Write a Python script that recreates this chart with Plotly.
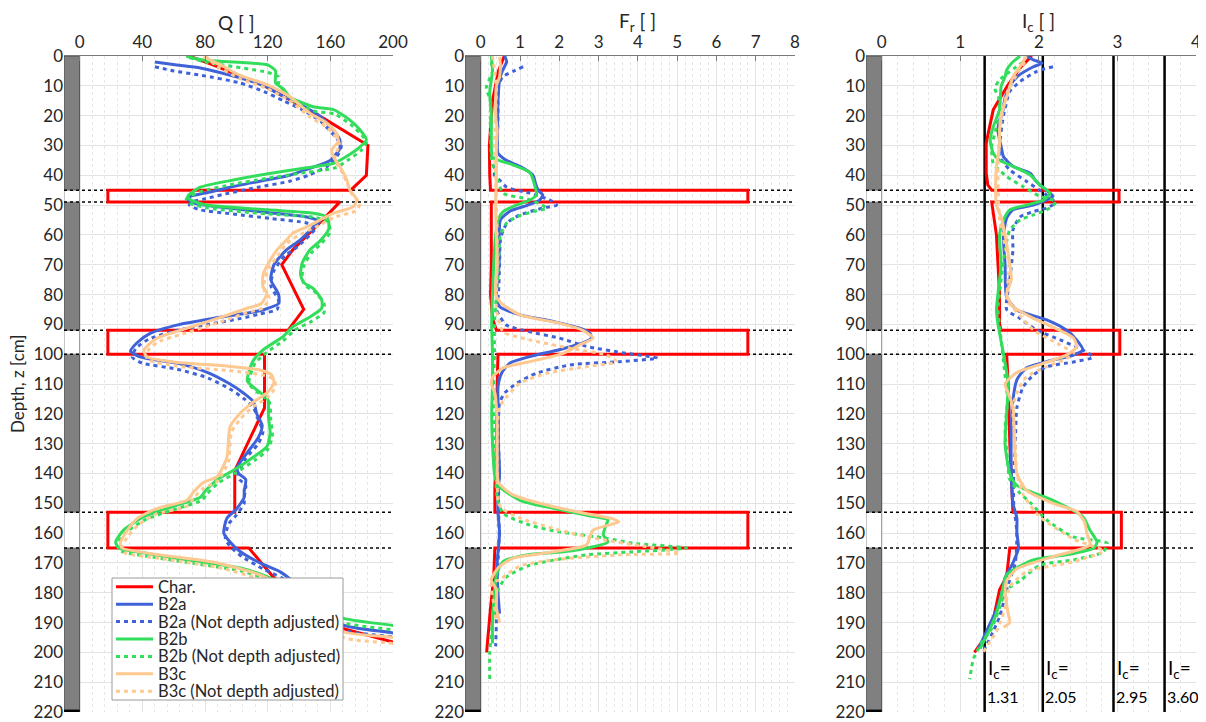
import plotly.graph_objects as go

# ---------------- data ----------------
# Panel 1 : Q
CHAR_Q_Z = [0, 3, 10, 21, 29, 30, 40, 45, 45, 49, 49, 55, 65, 70, 85, 92, 92, 100, 100, 118, 139, 153, 153, 165, 165, 175, 185, 192, 196.5, 200]
CHAR_Q = [70, 85, 118, 156, 181, 184, 183, 173, 18, 18, 166, 155, 136, 129, 143, 133, 18, 18, 118, 118, 99, 99, 18, 18, 108, 124, 150, 168, 200, 205]

B2A_Q_Z = [2, 3, 4, 7, 10, 13, 16, 20, 25, 28, 31, 35, 38, 40, 42, 44, 46, 47, 48, 49.5, 51, 52.5, 54, 55.5, 58, 62, 65, 70, 75, 80, 83, 85, 86, 88, 90, 93, 96, 99, 101, 103, 106, 110, 113, 116, 120, 124, 128, 133, 138, 140, 142, 146, 148, 152, 155, 160, 163, 166, 170, 173, 176, 181, 186, 190.8, 193.5, 195]
B2A_Q = [48, 62, 77, 100, 118, 128, 140, 153, 162, 166, 166, 160, 145, 134, 115, 96, 80, 71, 69, 74, 95, 120, 145, 153, 148, 140, 132, 124, 122, 127, 127, 118, 109, 85, 64, 45, 37, 32.5, 39, 62, 81, 96, 104.5, 111, 113, 116.5, 114, 107, 100.5, 101.5, 106, 105, 105, 100, 94, 92, 96, 102, 115, 128, 136, 150, 160, 168, 200, 212]

B2A_ND_Q_Z = [3.6, 5, 6.5, 9, 12, 15, 18, 22, 27, 30, 33, 37, 40, 42, 44, 46, 48, 49, 50, 51.5, 53, 54.5, 56, 57.5, 60, 64, 67, 72, 77, 82, 85, 86.5, 88, 90, 92, 95, 98, 101, 103, 105, 108, 112, 115, 118, 122, 126, 130, 135, 140, 142, 144, 148, 150, 154, 157, 162, 165, 168, 172, 175, 178, 183, 188, 192.5, 194.8, 196]
B2A_ND_Q = [48, 60, 78, 102, 118, 130, 142, 154, 163, 167, 165, 158, 146, 134, 114, 95, 79, 71, 70, 76, 98, 122, 145, 151, 147, 139, 131, 124, 122, 127, 126, 115, 103, 82, 62, 44, 36, 33.6, 40, 62, 82, 97, 105, 111, 114, 117, 114, 106, 101, 102, 106, 105, 105, 100, 95, 93, 97, 104, 117, 129, 138, 151, 161, 168, 200, 212]

B2B_Q_Z = [0, 1, 1.5, 3, 5, 9, 11, 13.7, 17, 18, 21.5, 24.8, 28, 30.5, 33.8, 36, 37.5, 39.5, 41.6, 44, 47, 48.3, 50, 51.6, 52.7, 54, 58, 62, 65, 69.5, 73.4, 76, 77.9, 81.8, 84.6, 87.5, 90.8, 94, 98.6, 102, 106, 109, 112, 115, 121, 126.5, 131, 134.5, 139, 142, 146, 148, 151, 154.5, 159, 163, 165, 167, 169.6, 171.7, 174.7, 180, 184.5, 188.5, 191, 192.5]
B2B_Q = [68, 75, 81, 120, 125, 125, 130, 134, 149, 162, 172.5, 179, 183, 179, 170, 162, 145, 120, 98, 77, 69, 71, 81, 120, 149, 158, 159, 153.5, 147, 142, 141, 143, 149, 154.5, 154.5, 147, 136, 130, 117, 111, 108, 107, 113, 120, 120.5, 121.6, 119.5, 111, 98, 88, 80, 77, 60, 41, 28, 23, 25, 45, 77, 102.5, 120, 140, 155, 168, 200, 212]

B2B_ND_Q_Z = [0.5, 2, 5.5, 7, 9.5, 12, 15, 18.5, 19.5, 23, 26.5, 29, 31.5, 35, 37.5, 39, 41, 43, 45.5, 48, 49.5, 51, 53, 54, 55.5, 59, 63, 66, 70.5, 74.5, 77, 79, 83, 86, 89, 92, 95, 100, 103, 107, 110, 113, 116, 122, 127.5, 132, 135.5, 140, 143, 147, 149, 152, 155.5, 160, 164, 166, 168, 170.6, 172.7, 175.7, 181, 185.5, 190, 192.5, 194]
B2B_ND_Q = [70, 80, 120, 127, 127, 131, 136, 150, 163, 173, 180, 183, 180, 171, 163, 145, 120, 98, 77, 68, 71, 82, 120, 149, 158, 160, 154, 148, 143, 142, 144, 150, 156, 156, 148, 137, 131, 118, 112, 109, 108, 114, 121, 122, 123, 120, 112, 99, 89, 81, 78, 61, 42, 29, 24, 26, 46, 78, 103, 121, 141, 156, 168, 200, 212]

B3C_Q_Z = [0.3, 3, 6.4, 9.7, 13.6, 19.2, 22.6, 26, 28.7, 31.5, 33.8, 37, 41.6, 45, 48.3, 50.6, 52.7, 55, 57.3, 59.4, 61.7, 65, 69.5, 73.4, 77.4, 79.5, 83, 84.6, 88, 92, 94.6, 98.6, 100.9, 102.6, 104, 105.3, 107, 109.7, 113, 116, 119.8, 124.3, 128.8, 134.5, 141, 143, 146, 149, 151.7, 155, 159, 163.3, 165, 167.3, 170, 174, 180, 186, 193, 195, 196.5]
B3C_Q = [79, 90, 102, 120, 134, 147, 158, 164, 165, 161, 162, 166, 170.5, 172.5, 177, 174.5, 162, 153.5, 145, 136, 132, 126, 120.5, 117, 117, 119.5, 116, 107, 88, 64, 49.5, 41, 43, 60, 94, 115, 122.6, 124, 119.5, 111, 102.5, 96, 95, 94, 88, 79, 73, 68.5, 49.5, 37, 30.5, 26, 27, 51.5, 88, 115, 138, 155, 168, 200, 212]

B3C_ND_Q_Z = [0, 3.5, 7.5, 11, 15, 20.5, 24, 27.5, 30, 33, 35, 38.5, 43, 46.5, 49.5, 52, 54, 56.5, 58.5, 61, 63, 66.5, 71, 75, 79, 81, 84.5, 86, 89.5, 93.5, 96, 100, 102, 104, 105.5, 107, 108.5, 111, 114.5, 117.5, 121.5, 126, 130.5, 136, 142.5, 145, 148, 151, 153.5, 157, 161, 164.5, 166.5, 168.5, 171.5, 175.5, 181.5, 188, 195, 197, 198.5]
B3C_ND_Q = [80, 88, 102, 120, 134, 147, 158, 164, 166, 163, 163, 167, 171, 174, 179, 176, 163, 154, 146, 137, 132, 127, 121, 118, 118, 121, 117, 107, 88, 64, 49.5, 42, 44, 62, 95, 117, 124, 125, 120, 111, 103, 97, 96, 95, 88, 79, 73, 68.5, 49.5, 38, 31, 27, 28, 52, 88, 115, 138, 155, 168, 200, 212]

# Panel 2 : F_r
CHAR_FR_Z = [0, 5, 15, 25, 30, 40, 45, 45, 49, 49, 60, 70, 80, 88, 92, 92, 100, 100, 110, 130, 145, 153, 153, 165, 165, 175, 185, 200]
CHAR_FR = [0.6, 0.45, 0.3, 0.25, 0.22, 0.23, 0.25, 6.8, 6.8, 0.27, 0.28, 0.27, 0.25, 0.3, 0.4, 6.8, 6.8, 0.44, 0.42, 0.4, 0.36, 0.36, 6.8, 6.8, 0.36, 0.33, 0.25, 0.15]

B2A_FR_Z = [0, 2, 5, 8, 15, 25, 32.6, 35, 37, 40, 43, 45, 46.6, 48.3, 50, 52, 55, 60, 70, 79.5, 84, 86.8, 89, 91.3, 93, 94.6, 96.2, 98.5, 100.8, 103, 106.4, 111, 120, 130, 140, 145, 153, 160, 165, 170, 180, 187]
B2A_FR = [0.61, 0.66, 0.55, 0.48, 0.44, 0.43, 0.44, 0.65, 1.0, 1.33, 1.4, 1.46, 1.58, 1.5, 1.2, 0.75, 0.5, 0.47, 0.47, 0.4, 0.48, 1.0, 1.84, 2.52, 2.78, 2.82, 2.6, 2.0, 1.25, 0.74, 0.53, 0.44, 0.45, 0.45, 0.48, 0.45, 0.44, 0.48, 0.45, 0.42, 0.44, 0.48]

B2A_ND_FR_Z = [3.6, 5, 7, 10, 20, 30, 40, 41.6, 44, 46, 48.3, 50, 51, 53.3, 55.6, 58.4, 62, 70, 80, 85, 90.2, 92.5, 94.6, 97.4, 99.7, 101.3, 102.5, 103.6, 106.4, 109.7, 113, 116.4, 125, 140, 150, 160, 170, 180, 190, 198]
B2A_ND_FR = [1.08, 0.85, 0.56, 0.45, 0.44, 0.42, 0.35, 0.48, 0.66, 1.25, 1.76, 1.93, 1.57, 1.0, 0.7, 0.57, 0.5, 0.48, 0.45, 0.4, 0.65, 1.25, 2.0, 2.69, 3.7, 4.5, 3.54, 2.27, 1.42, 0.92, 0.61, 0.48, 0.45, 0.47, 0.45, 0.47, 0.44, 0.42, 0.4, 0.38]

B2B_FR_Z = [0, 5, 12, 20, 30, 34, 36.5, 39, 43.7, 46.6, 48.3, 50, 52.2, 55, 60, 70, 80, 90, 100, 110, 120, 130, 140, 144, 149, 151.7, 154, 155.6, 157, 160.6, 163, 164.6, 166.3, 167.3, 169.6, 174, 180, 190, 197]
B2B_FR = [0.27, 0.3, 0.23, 0.27, 0.27, 0.3, 0.82, 1.25, 1.38, 1.42, 1.25, 0.91, 0.57, 0.44, 0.38, 0.33, 0.3, 0.28, 0.3, 0.3, 0.28, 0.3, 0.35, 0.44, 1.0, 1.84, 2.69, 3.24, 3.2, 3.12, 3.24, 2.86, 2.1, 1.17, 0.57, 0.4, 0.35, 0.3, 0.3]

B2B_ND_FR_Z = [2, 5, 10.8, 15, 25, 35, 40, 46, 48, 51, 52.2, 54, 56, 60, 70, 80, 90, 100, 110, 120, 130, 140, 148, 153.4, 157.3, 159.6, 161.7, 163.4, 165, 166.3, 167.3, 170.8, 174.7, 180, 190, 200, 209]
B2B_ND_FR = [0.27, 0.3, 0.14, 0.25, 0.25, 0.28, 0.4, 0.57, 1.2, 1.68, 1.33, 0.91, 0.66, 0.5, 0.45, 0.4, 0.35, 0.35, 0.33, 0.33, 0.35, 0.38, 0.42, 0.57, 1.25, 2.0, 3.2, 3.87, 5.24, 3.87, 2.69, 1.25, 0.66, 0.4, 0.3, 0.23, 0.23]

B3C_FR_Z = [0.3, 3, 7, 10, 20, 25, 30, 40, 50, 60, 70, 80, 83, 86.8, 89.6, 92, 94.6, 96.9, 99.7, 102.5, 104.6, 107.6, 110, 113, 118, 125, 135, 143, 147, 150, 153, 155, 156.2, 159, 161.3, 164, 166.3, 168.4, 171.7, 175.7, 179, 185, 190]
B3C_FR = [0.48, 0.5, 0.48, 0.4, 0.38, 0.42, 0.4, 0.4, 0.38, 0.4, 0.42, 0.38, 0.53, 1.0, 2.0, 2.6, 2.86, 2.52, 2.1, 1.25, 0.57, 0.31, 0.27, 0.36, 0.4, 0.42, 0.42, 0.45, 0.8, 1.5, 2.5, 3.3, 3.52, 2.86, 2.78, 2.69, 1.84, 0.82, 0.44, 0.27, 0.4, 0.4, 0.48]

B3C_ND_FR_Z = [0, 5, 10, 20, 30, 40, 50, 60, 70, 80, 85, 92.5, 95.2, 98, 100.3, 102.5, 104.2, 106.4, 109.7, 114.3, 117.7, 125, 140, 150, 152, 155, 159, 162, 164.5, 166.7, 167.3, 169, 171, 175.6, 177, 185, 190]
B3C_ND_FR = [0.3, 0.35, 0.4, 0.38, 0.35, 0.38, 0.4, 0.42, 0.42, 0.4, 0.4, 0.57, 1.25, 2.27, 3.2, 3.46, 2.69, 1.68, 1.0, 0.66, 0.48, 0.42, 0.42, 0.45, 0.57, 1.0, 2.0, 3.0, 4.2, 5.07, 3.54, 1.84, 1.0, 0.48, 0.27, 0.35, 0.4]

# Panel 3 : I_c
CHAR_IC_Z = [0, 4, 10, 18, 26.6, 29.3, 39.3, 43.2, 45, 45, 49, 49, 52.7, 60, 70, 80, 90, 92, 92, 100, 100, 110, 130, 145, 153, 153, 165, 165, 174.5, 179, 189, 196, 200]
CHAR_IC = [1.91, 1.76, 1.6, 1.42, 1.35, 1.33, 1.33, 1.35, 1.4, 3.02, 3.02, 1.4, 1.42, 1.46, 1.48, 1.5, 1.5, 1.52, 3.03, 3.03, 1.59, 1.61, 1.63, 1.66, 1.67, 3.05, 3.05, 1.63, 1.59, 1.5, 1.42, 1.29, 1.18]

B2A_IC_Z = [0, 1.3, 2.4, 3.6, 7, 10.2, 14, 20, 21.5, 25, 28, 30.4, 33.8, 37, 39.3, 42.2, 46, 47, 48.3, 50, 51.6, 54.4, 60, 70, 80.8, 85.2, 88.5, 91.9, 95.2, 98.6, 100.3, 102.5, 104.6, 108.6, 115.4, 125, 140, 150, 155, 160, 165, 170, 175, 180, 185.7, 192, 198.8]
B2A_IC = [1.84, 1.93, 2.04, 1.93, 1.72, 1.63, 1.57, 1.53, 1.5, 1.48, 1.5, 1.52, 1.55, 1.67, 1.89, 1.97, 2.14, 2.18, 2.1, 1.93, 1.67, 1.59, 1.55, 1.57, 1.59, 1.72, 2.1, 2.35, 2.48, 2.56, 2.44, 2.1, 1.84, 1.72, 1.67, 1.65, 1.65, 1.67, 1.72, 1.72, 1.74, 1.67, 1.57, 1.53, 1.46, 1.35, 1.23]

B2A_ND_IC_Z = [3.6, 5.2, 8.6, 11.9, 20, 30, 33.8, 38.2, 42, 45, 48.3, 49.4, 51, 52.2, 54, 58.4, 65, 75, 85, 88, 91.9, 95.2, 98.6, 101, 102.6, 104.2, 107, 111, 118, 130, 140, 150, 160, 170, 178, 188, 200]
B2A_ND_IC = [2.18, 1.97, 1.76, 1.63, 1.55, 1.5, 1.5, 1.63, 1.84, 2.01, 2.18, 2.2, 2.1, 1.93, 1.76, 1.67, 1.67, 1.63, 1.59, 1.76, 1.97, 2.27, 2.56, 2.69, 2.44, 2.1, 1.93, 1.8, 1.72, 1.7, 1.68, 1.68, 1.72, 1.7, 1.6, 1.5, 1.29]

B2B_IC_Z = [0, 2.5, 4.7, 7, 10.2, 18, 23.7, 28.2, 32.6, 35, 37, 39.9, 43.2, 46, 48.3, 50, 51.6, 55, 60, 70, 75, 85.2, 90, 100, 110, 120, 130, 140, 144, 149, 154.5, 159, 163, 165, 167.3, 169, 174, 180, 187, 192, 198.8]
B2B_IC = [1.76, 1.65, 1.59, 1.57, 1.52, 1.5, 1.42, 1.38, 1.42, 1.5, 1.67, 1.89, 2.01, 2.14, 2.06, 1.84, 1.63, 1.55, 1.5, 1.52, 1.5, 1.46, 1.48, 1.55, 1.61, 1.59, 1.57, 1.63, 1.72, 2.18, 2.56, 2.65, 2.74, 2.7, 2.35, 1.93, 1.59, 1.53, 1.46, 1.38, 1.25]

B2B_ND_IC_Z = [2, 8, 10.8, 15, 25, 30, 36, 40.4, 43.8, 47, 48.8, 51, 53.3, 55, 58.4, 65, 75, 85, 95, 105, 115, 125, 135, 142, 146.6, 150, 155.6, 161.3, 163.4, 166.3, 169, 170.8, 176, 179, 185, 192, 196, 202, 209]
B2B_ND_IC = [1.8, 1.5, 1.44, 1.5, 1.45, 1.4, 1.42, 1.59, 1.8, 2.01, 2.22, 2.14, 1.93, 1.76, 1.63, 1.57, 1.52, 1.48, 1.52, 1.56, 1.6, 1.57, 1.6, 1.63, 1.76, 1.9, 2.1, 2.44, 2.87, 2.82, 2.44, 2.01, 1.76, 1.59, 1.5, 1.4, 1.29, 1.17, 1.12]

B3C_IC_Z = [0, 3.6, 7, 12, 20, 25, 30, 37, 45, 50, 54, 60, 70, 75, 80, 84, 88, 91.4, 94.6, 97.6, 100.3, 103.5, 106.1, 110, 113, 117.7, 130, 140, 145.6, 150, 152.7, 156.2, 160, 164, 167.9, 172, 176, 180, 187, 190, 191.6]
B3C_IC = [1.84, 1.76, 1.67, 1.61, 1.52, 1.5, 1.5, 1.46, 1.45, 1.46, 1.52, 1.57, 1.63, 1.65, 1.59, 1.67, 1.93, 2.22, 2.44, 2.48, 2.35, 2.01, 1.72, 1.57, 1.61, 1.67, 1.69, 1.72, 1.84, 2.18, 2.48, 2.58, 2.61, 2.65, 2.18, 1.72, 1.59, 1.57, 1.61, 1.63, 1.55]

B3C_ND_IC_Z = [2, 12, 25, 40, 55, 70, 82, 87, 91.9, 96.9, 99.7, 101.5, 104.2, 107.7, 113, 118, 130, 140, 147, 154.5, 162, 166, 169.6, 173, 178, 185, 192, 200]
B3C_ND_IC = [1.82, 1.6, 1.5, 1.48, 1.5, 1.62, 1.6, 1.76, 1.93, 2.27, 2.44, 2.35, 2.1, 1.84, 1.72, 1.67, 1.7, 1.72, 1.8, 2.01, 2.44, 2.82, 2.44, 1.84, 1.63, 1.57, 1.48, 1.29]

# soil column (strip) and layer boundaries
SAND_TOPS = [45, 92, 153]
SAND_BOTTOMS = [49, 100, 165]
CLAY_TOPS = [0, 49, 100, 165]
CLAY_BOTTOMS = [45, 92, 153, 220]
IC_LIMITS = [1.31, 2.05, 2.95, 3.60]
IC_LABELS = ["1.31", "2.05", "2.95", "3.60"]

Q_TICKS = [0, 40, 80, 120, 160, 200]
FR_TICKS = [0, 1, 2, 3, 4, 5, 6, 7, 8]
IC_TICKS = [0, 1, 2, 3, 4]
DEPTH_TICKS = list(range(0, 221, 10))

# ---------------- style ----------------
FONT = "Lato, 'Open Sans', sans-serif"
TXT = "#262626"
RED = "#ff0000"
BLUE = "#3f62d8"
GREEN = "#33dd5c"
ORANGE = "#fdc991"

# the page body adds an 8 px margin, so the figure is sized to fit the window
OFF = 8
W = 1206 - OFF
H = 722 - OFF


def px(sx):
    return (sx - OFF) / W


def py(sy):
    return 1 - (sy - OFF) / H


series = [
    ("Char.", RED, "solid", "linear"),
    ("B2a", BLUE, "solid", "spline"),
    ("B2a (Not depth adjusted)", BLUE, "4px,4px", "spline"),
    ("B2b", GREEN, "solid", "spline"),
    ("B2b (Not depth adjusted)", GREEN, "4px,4px", "spline"),
    ("B3c", ORANGE, "solid", "spline"),
    ("B3c (Not depth adjusted)", ORANGE, "4px,4px", "spline"),
]

panels = [
    dict(xa="x", ya="y", data=[(CHAR_Q, CHAR_Q_Z), (B2A_Q, B2A_Q_Z), (B2A_ND_Q, B2A_ND_Q_Z),
                               (B2B_Q, B2B_Q_Z), (B2B_ND_Q, B2B_ND_Q_Z), (B3C_Q, B3C_Q_Z), (B3C_ND_Q, B3C_ND_Q_Z)],
         rng=[-10, 200], ticks=Q_TICKS, minor=8, strip=[-10, 0], dom=[64, 393], title="Q [ ]"),
    dict(xa="x2", ya="y2", data=[(CHAR_FR, CHAR_FR_Z), (B2A_FR, B2A_FR_Z), (B2A_ND_FR, B2A_ND_FR_Z),
                                 (B2B_FR, B2B_FR_Z), (B2B_ND_FR, B2B_ND_FR_Z), (B3C_FR, B3C_FR_Z), (B3C_ND_FR, B3C_ND_FR_Z)],
         rng=[-0.4, 8], ticks=FR_TICKS, minor=0.2, strip=[-0.4, 0], dom=[465, 795], title="F<sub>r</sub> [ ]"),
    dict(xa="x3", ya="y3", data=[(CHAR_IC, CHAR_IC_Z), (B2A_IC, B2A_IC_Z), (B2A_ND_IC, B2A_ND_IC_Z),
                                 (B2B_IC, B2B_IC_Z), (B2B_ND_IC, B2B_ND_IC_Z), (B3C_IC, B3C_IC_Z), (B3C_ND_IC, B3C_ND_IC_Z)],
         rng=[-0.2, 4], ticks=IC_TICKS, minor=0.2, strip=[-0.2, 0], dom=[866, 1196], title="I<sub>c</sub> [ ]"),
]

fig = go.Figure()
shapes = []
annotations = []
ydom = [py(712), py(56)]

for pi, p in enumerate(panels):
    for si, ((xv, zv), (name, col, dash, shape)) in enumerate(zip(p["data"], series)):
        fig.add_trace(go.Scatter(
            x=xv, y=zv, mode="lines", name=name, legendgroup=name,
            showlegend=False, xaxis=p["xa"], yaxis=p["ya"],
            line=dict(color=col, width=3, dash=dash, shape=shape,
                      smoothing=0.6 if shape == "spline" else None),
        ))
    sfx = "" if pi == 0 else str(pi + 1)
    xlo, xhi = p["strip"]
    # soil column
    for t, b in zip(CLAY_TOPS, CLAY_BOTTOMS):
        shapes.append(dict(type="rect", xref=p["xa"], yref=p["ya"], x0=xlo, x1=xhi, y0=t, y1=b,
                           fillcolor="#808080", line=dict(color="#4d4d4d", width=1), layer="between"))
    for t, b in zip(SAND_TOPS, SAND_BOTTOMS):
        shapes.append(dict(type="rect", xref=p["xa"], yref=p["ya"], x0=xlo, x1=xhi, y0=t, y1=b,
                           fillcolor="white", line=dict(color="#8c8c8c", width=1), layer="between"))
    shapes.append(dict(type="rect", xref=p["xa"], yref=p["ya"], x0=xlo, x1=xhi, y0=219.2, y1=220,
                       fillcolor="black", line=dict(width=0), layer="between"))
    # layer boundary lines
    for zb in SAND_TOPS + SAND_BOTTOMS:
        shapes.append(dict(type="line", xref=p["xa"], yref=p["ya"], x0=xlo, x1=p["rng"][1], y0=zb, y1=zb,
                           line=dict(color="black", width=1.5, dash="dot"), layer="between"))
    # axes
    fig.update_layout(**{
        "xaxis" + sfx: dict(
            domain=[px(p["dom"][0]), px(p["dom"][1])], anchor=p["ya"], side="top",
            range=p["rng"], tickvals=p["ticks"], showgrid=True, gridcolor="#e3e3e3", gridwidth=1,
            zeroline=False, showline=True, linecolor="#7a7a7a", linewidth=1,
            ticks="inside", ticklen=5, tickcolor="#7a7a7a",
            tickfont=dict(family=FONT, size=17, color=TXT),
            minor=dict(dtick=p["minor"], tick0=0, showgrid=True, gridcolor="#e6e6e6",
                       griddash="dot", gridwidth=1, ticks=""),
        ),
        "yaxis" + sfx: dict(
            domain=ydom, anchor=p["xa"], range=[220, 0], tickvals=DEPTH_TICKS,
            showgrid=True, gridcolor="#e3e3e3", gridwidth=1, zeroline=False, showline=False,
            ticks="", tickfont=dict(family=FONT, size=17, color=TXT),
        ),
    })
    mid = (p["ticks"][0] + p["ticks"][-1]) / 2
    annotations.append(dict(xref=p["xa"], yref="paper", x=mid, y=py(22), text=p["title"],
                            showarrow=False, font=dict(family=FONT, size=19, color=TXT),
                            xanchor="center", yanchor="middle"))

# I_c boundary lines and labels
for v, lab in zip(IC_LIMITS, IC_LABELS):
    shapes.append(dict(type="line", xref="x3", yref="y3", x0=v, x1=v, y0=0, y1=220,
                       line=dict(color="black", width=2.5), layer="between"))
    annotations.append(dict(xref="x3", yref="y3", x=v, y=205.5, text="I<sub>c</sub>=", showarrow=False,
                            xanchor="left", yanchor="middle", xshift=1,
                            font=dict(family=FONT, size=19, color="black")))
    annotations.append(dict(xref="x3", yref="y3", x=v, y=214.8, text=lab, showarrow=False,
                            xanchor="left", yanchor="middle", xshift=0,
                            font=dict(family=FONT, size=16, color="black")))

annotations.append(dict(xref="paper", yref="paper", x=px(17), y=py(384), text="Depth, z [cm]",
                        textangle=-90, showarrow=False, xanchor="center", yanchor="middle",
                        font=dict(family=FONT, size=17, color=TXT)))

# custom legend drawn in panel 1 (box, sample lines, labels)
LEG_X0, LEG_X1, LEG_Y0, LEG_Y1 = 112, 343, 578, 700
shapes.append(dict(type="rect", xref="paper", yref="paper",
                   x0=px(LEG_X0), x1=px(LEG_X1), y0=py(LEG_Y0), y1=py(LEG_Y1),
                   fillcolor="white", line=dict(color="#9a9a9a", width=1), layer="above"))
row_h = (LEG_Y1 - LEG_Y0) / len(series)
for i, (name, col, dash, _) in enumerate(series):
    yc = LEG_Y0 + row_h * (i + 0.5)
    shapes.append(dict(type="line", xref="paper", yref="paper",
                       x0=px(116), x1=px(153), y0=py(yc), y1=py(yc),
                       line=dict(color=col, width=3, dash=dash), layer="above"))
    annotations.append(dict(xref="paper", yref="paper", x=px(156), y=py(yc), text=name,
                            showarrow=False, xanchor="left", yanchor="middle",
                            font=dict(family=FONT, size=16.5, color=TXT)))

fig.update_layout(
    width=W, height=H, margin=dict(l=0, r=0, t=0, b=0, autoexpand=False),
    paper_bgcolor="white", plot_bgcolor="white",
    shapes=shapes, annotations=annotations,
    showlegend=False,
    font=dict(family=FONT, color=TXT),
)

fig.write_html("out.html")
